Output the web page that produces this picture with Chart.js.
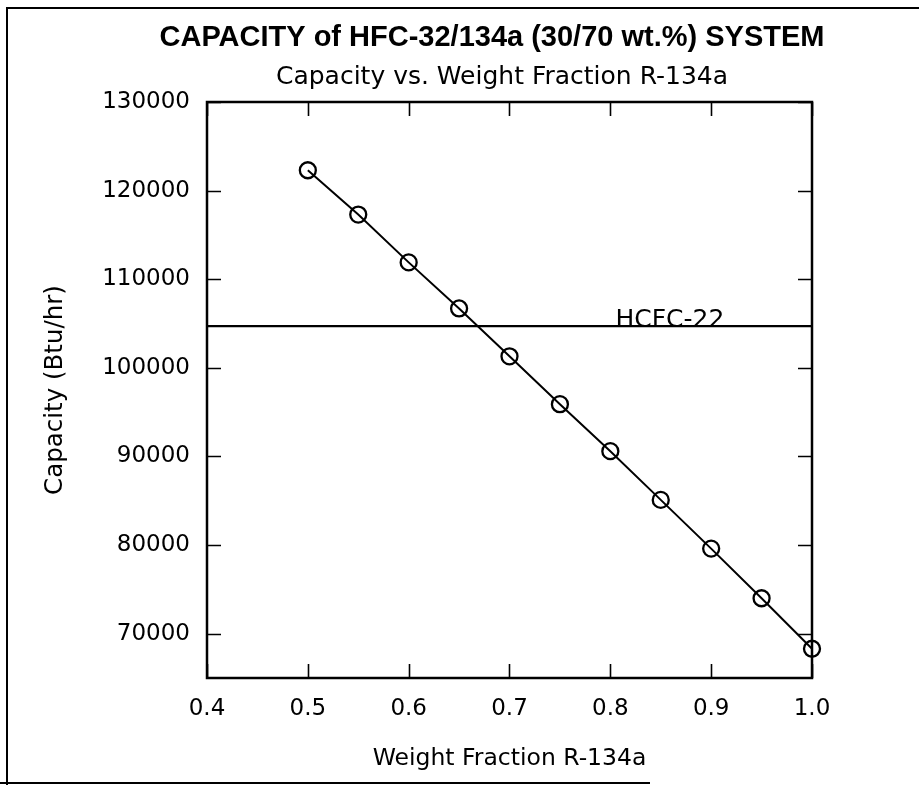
<!DOCTYPE html>
<html><head><meta charset="utf-8">
<script src="https://cdn.jsdelivr.net/npm/chart.js@4.4.1/dist/chart.umd.min.js"></script>
<style>html,body{margin:0;padding:0;background:#fff}#wrap{width:919px;height:785px;position:relative}canvas{display:block}</style>
</head><body><div id="wrap"><canvas id="c" width="919" height="785"></canvas></div>
<script>
const weightFraction = [0.5, 0.55, 0.6, 0.65, 0.7, 0.75, 0.8, 0.85, 0.9, 0.95, 1.0];
const capacity = [122300, 117300, 111900, 106700, 101300, 95900, 90600, 85100, 79600, 74000, 68300];
const hcfc22Capacity = 104700;
const hcfc22Label = 'HCFC-22';
const xTicks = [0.4, 0.5, 0.6, 0.7, 0.8, 0.9, 1.0];
const yTicks = [70000, 80000, 90000, 100000, 110000, 120000, 130000];
const xRange = [0.4, 1.0];
const yRange = [65000, 130000];
const titleText = 'CAPACITY of HFC-32/134a (30/70 wt.%) SYSTEM';
const subtitleText = 'Capacity vs. Weight Fraction R-134a';
const xTitle = 'Weight Fraction R-134a';
const yTitle = 'Capacity (Btu/hr)';

const FONT = "'DejaVu Sans', 'Liberation Sans', Arial, sans-serif";

const decorPlugin = {
  id: 'decor',
  beforeDraw(chart) {
    const ctx = chart.ctx;
    ctx.save();
    ctx.fillStyle = '#fff';
    ctx.fillRect(0, 0, chart.width, chart.height);
    // page frame
    ctx.strokeStyle = '#000';
    ctx.lineWidth = 2;
    ctx.beginPath();
    ctx.moveTo(7, 785); ctx.lineTo(7, 8); ctx.lineTo(919, 8);
    ctx.moveTo(0, 783); ctx.lineTo(650, 783);
    ctx.stroke();
    // titles
    ctx.fillStyle = '#000';
    ctx.textAlign = 'center';
    ctx.textBaseline = 'alphabetic';
    ctx.font = "bold 29px 'Liberation Sans', Arial, sans-serif";
    ctx.fillText(titleText, 492, 46);
    ctx.font = "25px " + FONT;
    ctx.fillText(subtitleText, 502, 84);
    ctx.restore();
  },
  afterDatasetsDraw(chart) {
    const ctx = chart.ctx;
    const {left, right, top, bottom} = chart.chartArea;
    const xs = chart.scales.x, ys = chart.scales.y;
    ctx.save();
    ctx.strokeStyle = '#000';
    ctx.lineWidth = 2.5;
    ctx.strokeRect(left, top, right - left, bottom - top);
    ctx.lineWidth = 1.6;
    ctx.beginPath();
    const tl = 14;
    xTicks.forEach(v => {
      const px = Math.round(xs.getPixelForValue(v)) + 0.5;
      ctx.moveTo(px, bottom); ctx.lineTo(px, bottom - tl);
      ctx.moveTo(px, top); ctx.lineTo(px, top + tl);
    });
    yTicks.forEach(v => {
      const py = Math.round(ys.getPixelForValue(v)) + 0.5;
      ctx.moveTo(left, py); ctx.lineTo(left + tl, py);
      ctx.moveTo(right, py); ctx.lineTo(right - tl, py);
    });
    ctx.stroke();
    // HCFC-22 label
    ctx.fillStyle = '#000';
    ctx.font = "25px " + FONT;
    ctx.textAlign = 'left';
    ctx.textBaseline = 'alphabetic';
    ctx.fillText(hcfc22Label, xs.getPixelForValue(0.805), ys.getPixelForValue(hcfc22Capacity) + 1);
    ctx.restore();
  }
};

new Chart(document.getElementById('c'), {
  type: 'line',
  data: {
    datasets: [
      {
        label: 'Capacity',
        data: weightFraction.map((x, i) => ({x, y: capacity[i]})),
        borderColor: '#000',
        borderWidth: 2,
        pointStyle: 'circle',
        pointRadius: 8,
        pointBorderWidth: 2.3,
        pointBorderColor: '#000',
        pointBackgroundColor: 'rgba(0,0,0,0)',
        tension: 0,
        clip: false
      },
      {
        label: hcfc22Label,
        data: xRange.map(x => ({x, y: hcfc22Capacity})),
        borderColor: '#000',
        borderWidth: 2.2,
        pointRadius: 0,
        tension: 0
      }
    ]
  },
  options: {
    responsive: false,
    animation: false,
    devicePixelRatio: 1,
    layout: {padding: {left: 0, right: 107, top: 102, bottom: 0}},
    plugins: {legend: {display: false}, title: {display: false}, tooltip: {enabled: false}},
    scales: {
      x: {
        type: 'linear',
        min: xRange[0], max: xRange[1],
        afterBuildTicks: s => { s.ticks = xTicks.map(v => ({value: v})); },
        afterFit: s => { s.height = 107; },
        grid: {display: false, drawTicks: false},
        border: {display: false},
        ticks: {color: '#000', font: {family: FONT, size: 23}, padding: 17, callback: v => Number(v).toFixed(1), maxRotation: 0, autoSkip: false},
        title: {display: true, text: xTitle, color: '#000', font: {family: FONT, size: 23.5}, padding: {top: 0, bottom: 12.5}}
      },
      y: {
        type: 'linear',
        min: yRange[0], max: yRange[1],
        afterBuildTicks: s => { s.ticks = yTicks.map(v => ({value: v})); },
        afterFit: s => { s.width = 207; },
        grid: {display: false, drawTicks: false},
        border: {display: false},
        ticks: {color: '#000', font: {family: FONT, size: 23}, padding: 17, callback: v => String(v), autoSkip: false},
        title: {display: true, text: yTitle, color: '#000', font: {family: FONT, size: 24.5}, padding: {top: 41, bottom: 0}}
      }
    }
  },
  plugins: [decorPlugin]
});
</script>
</body></html>
